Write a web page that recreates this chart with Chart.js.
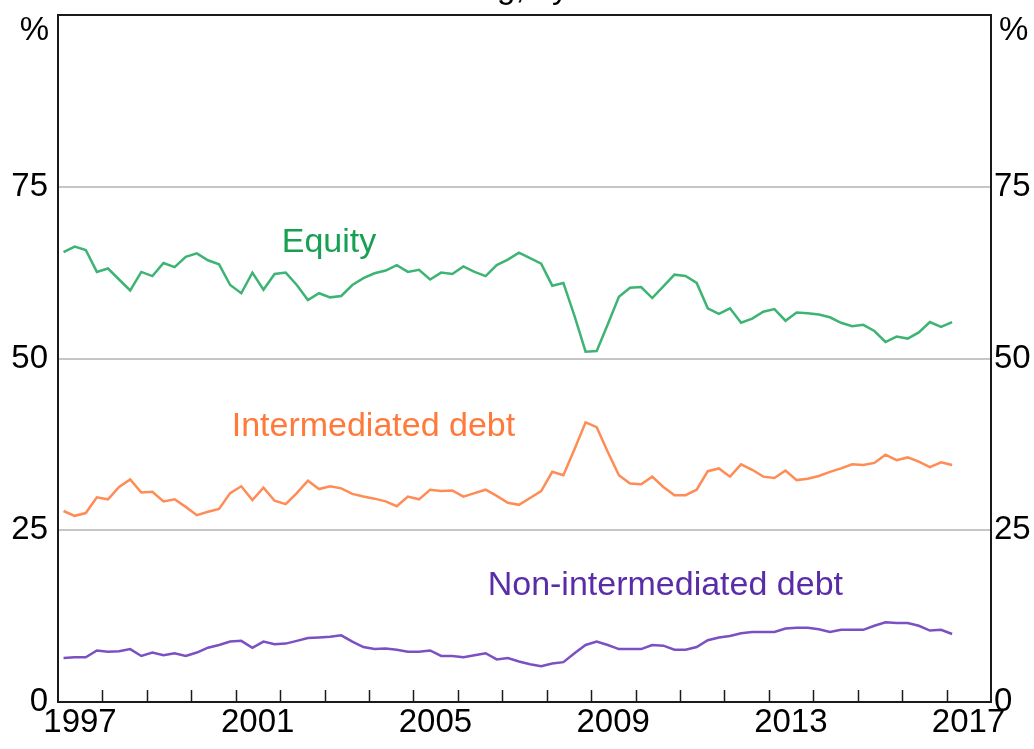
<!DOCTYPE html>
<html>
<head>
<meta charset="utf-8">
<script src="https://cdn.jsdelivr.net/npm/chart.js@4.4.0/dist/chart.umd.min.js"></script>
<style>
  html, body { margin: 0; padding: 0; background: #fff; overflow: hidden; }
  /* canvas is shifted up so only the bottom of the title shows, like the cropped original */
  #wrap { position: absolute; left: 0; top: -30px; width: 1034px; height: 779px; }
</style>
</head>
<body>
<div id="wrap"><canvas id="fundingChart" width="1034" height="779"></canvas></div>
<script>
// Quarterly observations, 1997 Q1 to 2017 Q1
const quarters = [];
for (let yr = 1997; yr <= 2017; yr++) {
  for (let q = 1; q <= 4; q++) {
    if (yr === 2017 && q > 1) break;
    quarters.push(yr + 'Q' + q);
  }
}

const equity = [
  65.5, 66.3, 65.8, 62.6, 63.1, 61.5, 59.9, 62.6, 62.0, 63.9,
  63.3, 64.8, 65.3, 64.3, 63.7, 60.7, 59.5, 62.5, 60.0, 62.3,
  62.5, 60.7, 58.5, 59.5, 58.9, 59.1, 60.7, 61.7, 62.4, 62.8,
  63.6, 62.6, 62.9, 61.5, 62.5, 62.3, 63.4, 62.6, 62.0, 63.6,
  64.4, 65.4, 64.6, 63.8, 60.6, 61.0, 56.2, 51.0, 51.1, 55.0,
  59.0, 60.3, 60.4, 58.8, 60.5, 62.2, 62.0, 61.0, 57.3, 56.5,
  57.3, 55.2, 55.8, 56.8, 57.2, 55.5, 56.7, 56.6, 56.4, 56.0,
  55.2, 54.7, 54.9, 54.0, 52.4, 53.2, 52.9, 53.8, 55.3, 54.6, 55.3
];
const intermediated = [
  27.8, 27.1, 27.5, 29.8, 29.5, 31.3, 32.4, 30.5, 30.6, 29.2,
  29.5, 28.4, 27.2, 27.7, 28.1, 30.4, 31.4, 29.4, 31.2, 29.3,
  28.8, 30.4, 32.2, 31.0, 31.4, 31.1, 30.3, 29.9, 29.6, 29.2,
  28.5, 29.9, 29.5, 30.9, 30.7, 30.8, 29.9, 30.4, 30.9, 30.0,
  29.0, 28.7, 29.7, 30.7, 33.5, 33.0, 36.8, 40.7, 40.0, 36.4,
  33.0, 31.8, 31.7, 32.8, 31.3, 30.1, 30.1, 30.9, 33.6, 34.0,
  32.8, 34.6, 33.8, 32.8, 32.6, 33.7, 32.3, 32.5, 32.9, 33.5,
  34.0, 34.6, 34.5, 34.8, 36.0, 35.2, 35.6, 35.0, 34.2, 34.9, 34.5
];
const nonIntermediated = [
  6.4, 6.5, 6.5, 7.5, 7.3, 7.4, 7.7, 6.7, 7.2, 6.8,
  7.1, 6.7, 7.2, 7.9, 8.3, 8.8, 8.9, 7.9, 8.8, 8.4,
  8.5, 8.9, 9.3, 9.4, 9.5, 9.7, 8.8, 8.0, 7.7, 7.8,
  7.6, 7.3, 7.3, 7.5, 6.7, 6.7, 6.5, 6.8, 7.1, 6.2,
  6.4, 5.9, 5.5, 5.2, 5.6, 5.8, 7.1, 8.3, 8.8, 8.3,
  7.7, 7.7, 7.7, 8.3, 8.2, 7.6, 7.6, 8.0, 9.0, 9.4,
  9.6, 10.0, 10.2, 10.2, 10.2, 10.7, 10.8, 10.8, 10.6, 10.2,
  10.5, 10.5, 10.5, 11.1, 11.6, 11.5, 11.5, 11.1, 10.4, 10.5, 9.9
];

const seriesNames = ['Equity', 'Intermediated debt', 'Non-intermediated debt'];
const yearLabels = ['1997', '2001', '2005', '2009', '2013', '2017'];
const titleText = 'Funding, by source';

// where the series names sit, in data units (year, per cent)
const nameSpots = [[2003.10, 65.5], [2004.10, 38.7], [2010.67, 15.6]];
const lineColours = ['#3db473', '#ff8c55', '#7b50c2'];
const textColours = ['#17a052', '#ff7a3a', '#5a2ca8'];

const FONT = 'Arial, "Liberation Sans", sans-serif';

// mid-quarter position on a continuous year axis
function quarterToX(label) {
  const yr = parseInt(label.slice(0, 4), 10);
  const q = parseInt(label.slice(5), 10);
  return yr + (q - 1) * 0.25 + 0.125;
}

function toPoints(values) {
  return quarters.map((q, i) => ({ x: quarterToX(q), y: values[i] }));
}

// frame, inward year ticks, series names and the % units
const decorations = {
  id: 'decorations',
  afterDatasetsDraw(chart) {
    const { ctx, chartArea: a, scales } = chart;
    const xs = scales.x;
    const ys = scales.y;
    ctx.save();

    ctx.strokeStyle = '#1a1a1a';
    ctx.lineWidth = 1.5;
    xs.ticks.forEach(t => {
      if (t.value <= xs.min || t.value >= xs.max) return;
      const px = Math.round(xs.getPixelForValue(t.value)) + 0.5;
      ctx.beginPath();
      ctx.moveTo(px, a.bottom);
      ctx.lineTo(px, a.bottom - 12);
      ctx.stroke();
    });

    ctx.lineWidth = 2;
    ctx.strokeRect(a.left, a.top, a.right - a.left, a.bottom - a.top);

    ctx.font = '34px ' + FONT;
    ctx.textAlign = 'center';
    ctx.textBaseline = 'alphabetic';
    seriesNames.forEach((name, i) => {
      ctx.fillStyle = textColours[i];
      ctx.fillText(name, xs.getPixelForValue(nameSpots[i][0]), ys.getPixelForValue(nameSpots[i][1]));
    });

    ctx.fillStyle = '#000';
    ctx.font = '33px ' + FONT;
    ctx.textBaseline = 'middle';
    ctx.textAlign = 'right';
    ctx.fillText('%', a.left - 9, a.top + 16);
    ctx.textAlign = 'left';
    ctx.fillText('%', a.right + 8, a.top + 16);

    // title, mostly above the visible page
    ctx.font = '33px ' + FONT;
    ctx.textAlign = 'center';
    ctx.textBaseline = 'alphabetic';
    ctx.fillText(titleText, (a.left + a.right) / 2 + 12, a.top - 17);

    ctx.restore();
  }
};

const tickFont = { size: 33, family: FONT };

const ctx = document.getElementById('fundingChart').getContext('2d');
const chart = new Chart(ctx, {
  type: 'line',
  data: {
    datasets: [equity, intermediated, nonIntermediated].map((vals, i) => ({
      label: seriesNames[i],
      data: toPoints(vals),
      borderColor: lineColours[i],
      backgroundColor: lineColours[i],
      borderWidth: 2.5,
      pointRadius: 0,
      tension: 0,
      fill: false
    }))
  },
  options: {
    responsive: false,
    animation: false,
    layout: { padding: { top: 45, left: 0, right: 0, bottom: 0 } },
    plugins: {
      legend: { display: false },
      tooltip: { enabled: false },
      title: { display: false }
    },
    scales: {
      x: {
        type: 'linear',
        min: 1997,
        max: 2018,
        afterFit: s => { s.height = 47; },
        grid: { display: false, drawTicks: false },
        border: { display: false },
        ticks: {
          stepSize: 1,
          autoSkip: false,
          maxRotation: 0,
          labelOffset: 22,
          padding: 1,
          color: '#000',
          font: tickFont,
          callback: v => yearLabels.includes(String(v)) ? String(v) : ''
        }
      },
      y: {
        position: 'left',
        min: 0,
        max: 100,
        afterFit: s => { s.width = 58; },
        border: { display: false },
        grid: {
          drawTicks: false,
          lineWidth: 2,
          color: c => (c.tick.value > 0 && c.tick.value < 100) ? '#c6c6c6' : 'rgba(0,0,0,0)'
        },
        ticks: {
          stepSize: 25,
          padding: 10,
          color: '#000',
          font: tickFont,
          callback: v => v === 100 ? '' : String(v)
        }
      },
      y2: {
        position: 'right',
        min: 0,
        max: 100,
        afterFit: s => { s.width = 43; },
        border: { display: false },
        grid: { display: false, drawTicks: false },
        ticks: {
          stepSize: 25,
          padding: 3,
          color: '#000',
          font: tickFont,
          callback: v => v === 100 ? '' : String(v)
        }
      }
    }
  },
  plugins: [decorations]
});
</script>
</body>
</html>
